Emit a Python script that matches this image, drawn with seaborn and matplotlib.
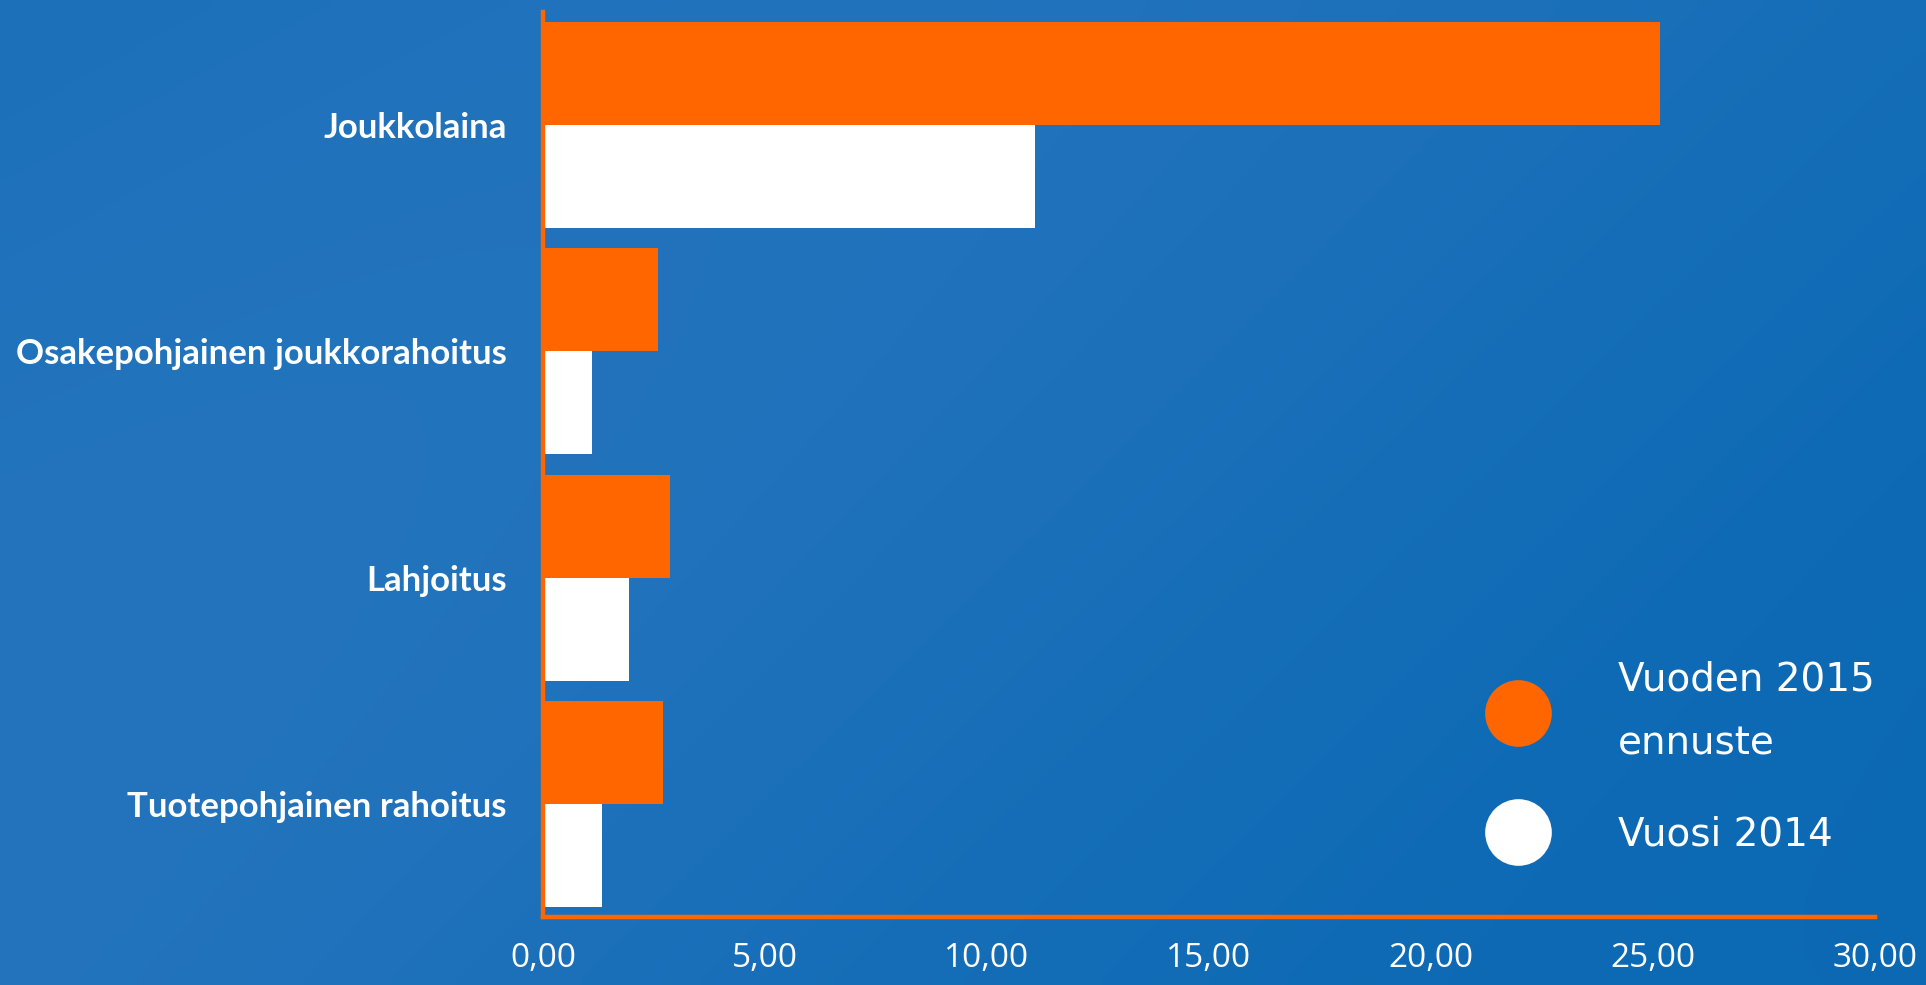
import numpy as np
import pandas as pd
import matplotlib
matplotlib.use("Agg")
import matplotlib.pyplot as plt
from matplotlib.lines import Line2D
import seaborn as sns

# ---- data ----
categories = ["Joukkolaina", "Osakepohjainen joukkorahoitus", "Lahjoitus", "Tuotepohjainen rahoitus"]
series_names = ["Vuoden 2015\nennuste", "Vuosi 2014"]
values_2015 = [25.15, 2.58, 2.87, 2.70]
values_2014 = [11.08, 1.11, 1.94, 1.34]
xticks = [0, 5, 10, 15, 20, 25, 30]
xtick_labels = ["0,00", "5,00", "10,00", "15,00", "20,00", "25,00", "30,00"]

ORANGE = "#FF6600"
WHITE = "#FFFFFF"
BG = "#1C6DB7"

df = pd.DataFrame({
    "cat": categories * 2,
    "value": values_2015 + values_2014,
    "series": [series_names[0]] * 4 + [series_names[1]] * 4,
})

sns.set_theme(style="white")
plt.rcParams["font.family"] = ["Lato", "DejaVu Sans"]

W, H = 1926, 985
fig = plt.figure(figsize=(W / 100, H / 100), dpi=100)
fig.patch.set_facecolor(BG)

# subtle background gradient (decoration)
bg_ax = fig.add_axes([0, 0, 1, 1], zorder=-10)
gx = np.linspace(0, 1, 200)
gy = np.linspace(0, 1, 100)
GX, GY = np.meshgrid(gx, gy)
shade = 0.5 + 0.25 * np.sin(GX * 3.0 + GY * 2.0) - 0.2 * GX
c1 = np.array([0x0A, 0x68, 0xB3]) / 255
c2 = np.array([0x2C, 0x78, 0xC0]) / 255
img = c1[None, None, :] * (1 - shade[..., None]) + c2[None, None, :] * shade[..., None]
bg_ax.imshow(np.clip(img, 0, 1), aspect="auto", extent=[0, 1, 0, 1], interpolation="bicubic")
bg_ax.axis("off")

left, right = 543 / W, 1875 / W
top, bottom = 12 / H, 917 / H
ax = fig.add_axes([left, 1 - bottom, right - left, bottom - top])
ax.set_facecolor("none")

sns.barplot(data=df, y="cat", x="value", hue="series", orient="h",
            palette={series_names[0]: ORANGE, series_names[1]: WHITE},
            hue_order=series_names, order=categories,
            width=0.91, gap=0, saturation=1, legend=False, ax=ax,
            edgecolor="none", linewidth=0)

ax.set_xlim(0, 30)
ax.set_ylim(3.5, -0.5)
ax.set_xlabel("")
ax.set_ylabel("")
ax.set_xticks(xticks)
ax.set_xticklabels(xtick_labels, color="white", fontsize=24,
                   family=["Open Sans", "DejaVu Sans"])
ax.set_yticks(range(len(categories)))
ax.set_yticklabels(categories, color="white", fontsize=25, fontweight="bold")
ax.tick_params(axis="x", length=0, pad=18)
ax.tick_params(axis="y", length=0, pad=26)
ax.grid(False)
for s in ["top", "right"]:
    ax.spines[s].set_visible(False)
for s in ["left", "bottom"]:
    ax.spines[s].set_color(ORANGE)
    ax.spines[s].set_linewidth(3.2)
    ax.spines[s].set_zorder(5)

handles = [Line2D([0], [0], marker="o", linestyle="none", markersize=48,
                  markerfacecolor=ORANGE, markeredgecolor="none"),
           Line2D([0], [0], marker="o", linestyle="none", markersize=48,
                  markerfacecolor=WHITE, markeredgecolor="none")]
leg = fig.legend(handles, series_names, loc="center left",
                 bbox_to_anchor=(1469 / W, 1 - 757 / H),
                 frameon=False, labelcolor="white",
                 prop={"family": ["DejaVu Sans"], "size": 28},
                 handletextpad=1.82, labelspacing=1.37, borderpad=0, handlelength=1.5)
for t in leg.get_texts():
    t.set_linespacing(1.85)

fig.savefig("out.png", dpi=100, facecolor=fig.get_facecolor())
